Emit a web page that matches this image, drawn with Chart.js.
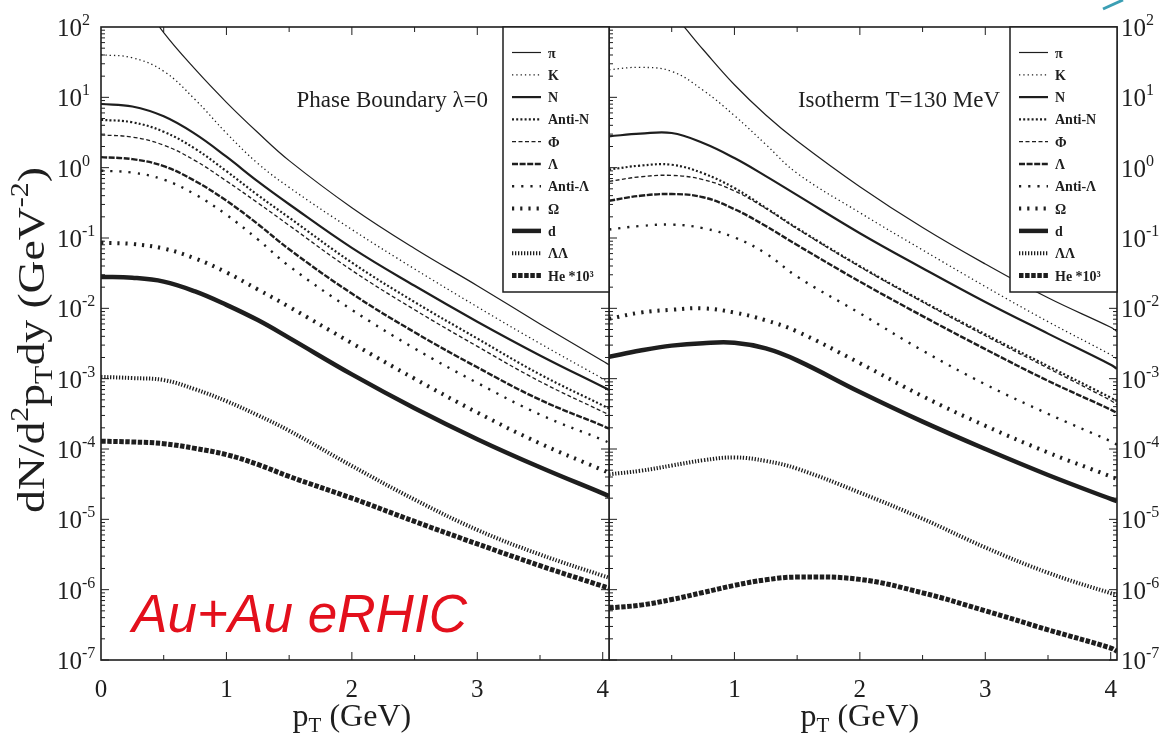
<!DOCTYPE html>
<html>
<head>
<meta charset="utf-8">
<script src="https://cdn.jsdelivr.net/npm/chart.js@4.4.0/dist/chart.umd.min.js"></script>
<style>
  html, body { margin: 0; padding: 0; background: #fff; }
  #wrap { position: relative; width: 1167px; height: 751px; overflow: hidden; }
  canvas { position: absolute; top: 0; }
  #leftPanel { left: 0; }
  #rightPanel { left: 609px; }
</style>
</head>
<body>
<div id="wrap">
  <canvas id="leftPanel" width="610" height="751"></canvas>
  <canvas id="rightPanel" width="558" height="751"></canvas>
</div>
<script>

// transverse momentum grid (GeV)
const pT = [0, 0.25, 0.5, 0.75, 1, 1.25, 1.5, 2, 2.5, 3, 3.5, 4, 4.05];

const speciesLabels = ['π', 'K', 'N', 'Anti-N', 'Φ', 'Λ', 'Anti-Λ', 'Ω', 'd', 'ΛΛ', 'He *10³'];

// left panel: Phase Boundary λ=0
const pbPion = [891, 355, 83, 25.1, 8.5, 3.16, 1.26, 0.27, 0.071, 0.021, 6.0e-3, 1.78e-3, 1.58e-3];
const pbKaon = [40.3, 36.5, 23.5, 9.3, 3.1, 1.15, 0.525, 0.132, 0.0363, 0.0105, 3.16e-3, 1.0e-3, 8.9e-4];
const pbNucleon = [8.04, 7.41, 5.37, 3.02, 1.43, 0.638, 0.302, 0.0724, 0.0209, 6.46e-3, 2.14e-3, 7.67e-4, 6.92e-4];
const pbAntiNucleon = [4.79, 4.42, 3.24, 1.86, 0.891, 0.407, 0.195, 0.0447, 0.0123, 3.72e-3, 1.15e-3, 4.17e-4, 3.8e-4];
const pbPhi = [2.92, 2.72, 2.09, 1.26, 0.646, 0.316, 0.151, 0.0347, 9.55e-3, 2.88e-3, 9.12e-4, 3.39e-4, 3.09e-4];
const pbLambda = [1.41, 1.32, 1.05, 0.646, 0.339, 0.158, 0.0692, 0.0162, 4.57e-3, 1.45e-3, 5.01e-4, 2.14e-4, 1.95e-4];
const pbAntiLambda = [0.906, 0.851, 0.676, 0.417, 0.214, 0.0955, 0.0398, 9.55e-3, 2.69e-3, 8.71e-4, 3.09e-4, 1.35e-4, 1.23e-4];
const pbOmega = [0.0855, 0.0822, 0.0708, 0.0513, 0.0324, 0.0186, 0.0105, 3.2e-3, 1.0e-3, 3.3e-4, 1.2e-4, 5.01e-5, 4.57e-5];
const pbDeuteron = [0.028, 0.0272, 0.024, 0.0174, 0.0112, 6.8e-3, 3.8e-3, 1.15e-3, 3.8e-4, 1.38e-4, 5.5e-5, 2.34e-5, 2.14e-5];
const pbDiLambda = [1.06e-3, 1.02e-3, 9.55e-4, 7.08e-4, 4.79e-4, 3.02e-4, 1.82e-4, 5.75e-5, 1.91e-5, 7.08e-6, 3.16e-6, 1.58e-6, 1.48e-6];
const pbHelium = [1.29e-4, 1.26e-4, 1.19e-4, 1.02e-4, 8.32e-5, 6.03e-5, 4.07e-5, 2.0e-5, 9.33e-6, 4.47e-6, 2.19e-6, 1.12e-6, 1.05e-6];

// right panel: Isotherm T=130 MeV
const isoPion = [1000, 398, 158, 47.9, 15.1, 5.62, 2.4, 0.537, 0.141, 0.0427, 0.0141, 5.37e-3, 4.68e-3];
const isoKaon = [24.7, 26.7, 23.4, 12.6, 5.5, 2.14, 0.832, 0.229, 0.0676, 0.0204, 6.46e-3, 2.19e-3, 1.91e-3];
const isoNucleon = [2.79, 3.04, 3.11, 2.24, 1.37, 0.759, 0.407, 0.117, 0.0372, 0.0123, 4.37e-3, 1.58e-3, 1.38e-3];
const isoAntiNucleon = [0.938, 1.07, 1.1, 0.832, 0.513, 0.269, 0.138, 0.0398, 0.0126, 4.27e-3, 1.51e-3, 5.37e-4, 4.79e-4];
const isoPhi = [0.638, 0.741, 0.776, 0.676, 0.468, 0.263, 0.135, 0.0389, 0.0123, 4.07e-3, 1.41e-3, 4.9e-4, 4.27e-4];
const isoLambda = [0.339, 0.398, 0.422, 0.38, 0.257, 0.148, 0.0794, 0.024, 7.76e-3, 2.63e-3, 9.33e-4, 3.63e-4, 3.24e-4];
const isoAntiLambda = [0.132, 0.148, 0.155, 0.138, 0.102, 0.0603, 0.0282, 8.51e-3, 2.51e-3, 8.32e-4, 3.16e-4, 1.29e-4, 1.15e-4];
const isoOmega = [7.08e-3, 8.71e-3, 9.55e-3, 0.01, 8.71e-3, 6.76e-3, 4.68e-3, 1.66e-3, 5.62e-4, 2.14e-4, 8.91e-5, 4.07e-5, 3.72e-5];
const isoDeuteron = [2.04e-3, 2.51e-3, 2.95e-3, 3.2e-3, 3.24e-3, 2.69e-3, 1.82e-3, 6.46e-4, 2.45e-4, 1.0e-4, 4.27e-5, 1.95e-5, 1.82e-5];
const isoDiLambda = [4.37e-5, 4.9e-5, 5.82e-5, 6.92e-5, 7.59e-5, 6.76e-5, 5.25e-5, 2.4e-5, 1.02e-5, 3.98e-6, 1.74e-6, 8.91e-7, 8.51e-7];
const isoHelium = [5.5e-7, 6.03e-7, 7.24e-7, 9.12e-7, 1.15e-6, 1.38e-6, 1.51e-6, 1.4e-6, 9.02e-7, 5.01e-7, 2.69e-7, 1.48e-7, 1.33e-7];

// tick labels
const yTickExponents = ['2', '1', '0', '-1', '-2', '-3', '-4', '-5', '-6', '-7'];
const leftXTickLabels = ['0', '1', '2', '3', '4'];
const rightXTickLabels = ['1', '2', '3', '4'];

const ink = '#1e1e1e';
const serif = '"Liberation Serif", "Times New Roman", serif';

// one style per species, same order as speciesLabels
const lineStyles = [
    { width: 1.2, dash: [] },
    { width: 1.3, dash: [1.3, 3] },
    { width: 2.2, dash: [] },
    { width: 2.2, dash: [2, 2.2] },
    { width: 1.3, dash: [4, 2.5] },
    { width: 2.4, dash: [6, 1.6] },
    { width: 2.4, dash: [2.2, 7] },
    { width: 4, dash: [2.2, 6] },
    { width: 4.5, dash: [] },
    { width: 4, dash: [1.3, 1.7] },
    { width: 5, dash: [4.5, 1.6] }
];

const panels = {
    leftPanel: {
        title: 'Phase Boundary λ=0',
        titleRight: 488,
        legendLeft: 503,
        yLabelX: 57,
        xTickLabels: leftXTickLabels,
        axisTitle: true
    },
    rightPanel: {
        title: 'Isotherm T=130 MeV',
        titleRight: 391,
        legendLeft: 401,
        yLabelX: 512,
        xTickLabels: rightXTickLabels,
        axisTitle: false
    }
};

// draws a row of text pieces: [text, size, baseline shift]
function drawRuns(ctx, runs, x, y, align) {
    let total = 0;
    runs.forEach(r => {
        ctx.font = r[1] + 'px ' + serif;
        total += ctx.measureText(r[0]).width;
    });
    let cx = x;
    if (align === 'center') cx = x - total / 2;
    if (align === 'right') cx = x - total;
    ctx.textAlign = 'left';
    ctx.textBaseline = 'alphabetic';
    runs.forEach(r => {
        ctx.font = r[1] + 'px ' + serif;
        ctx.fillText(r[0], cx, y + r[2]);
        cx += ctx.measureText(r[0]).width;
    });
}

const panelDecor = {
    id: 'panelDecor',
    afterDatasetsDraw(chart) {
        let cfg = panels[chart.canvas.id];
        let ctx = chart.ctx;
        let area = chart.chartArea;
        let xs = chart.scales.x;
        let ys = chart.scales.y;

        ctx.save();
        ctx.strokeStyle = ink;
        ctx.fillStyle = ink;
        ctx.setLineDash([]);

        // frame
        ctx.lineWidth = 1.6;
        ctx.strokeRect(area.left, area.top, area.right - area.left, area.bottom - area.top);

        // inward ticks on all four sides
        ctx.lineWidth = 1;
        ctx.beginPath();
        for (let e = -7; e < 2; e++) {
            for (let m = 1; m < 10; m++) {
                let py = ys.getPixelForValue(m * Math.pow(10, e));
                let len = m === 1 ? 8 : 4;
                ctx.moveTo(area.left, py);
                ctx.lineTo(area.left + len, py);
                ctx.moveTo(area.right, py);
                ctx.lineTo(area.right - len, py);
            }
        }
        for (let v = 0.5; v < xs.max; v += 0.5) {
            let px = xs.getPixelForValue(v);
            let len = v % 1 === 0 ? 8 : 5;
            ctx.moveTo(px, area.bottom);
            ctx.lineTo(px, area.bottom - len);
            ctx.moveTo(px, area.top);
            ctx.lineTo(px, area.top + len);
        }
        ctx.stroke();

        // y tick labels
        yTickExponents.forEach(exp => {
            let py = ys.getPixelForValue(Math.pow(10, Number(exp)));
            drawRuns(ctx, [['10', 25, 0], [exp, 16, -11]], cfg.yLabelX, py + 9, 'left');
        });

        // x tick labels and axis title
        cfg.xTickLabels.forEach(t => {
            drawRuns(ctx, [[t, 25, 0]], xs.getPixelForValue(Number(t)), 697, 'center');
        });
        drawRuns(ctx, [['p', 32, 0], ['T', 21, 6], [' (GeV)', 32, 0]],
            xs.getPixelForValue(2), 726, 'center');

        if (cfg.axisTitle) {
            ctx.save();
            ctx.translate(44, 340);
            ctx.rotate(-Math.PI / 2);
            ctx.scale(1.2, 1);
            drawRuns(ctx, [
                ['dN/d', 38, 0], ['2', 25, -16], ['p', 38, 0], ['T', 25, 8],
                ['dy (GeV', 38, 0], ['-2', 25, -16], [')', 38, 0]
            ], 0, 0, 'center');
            ctx.restore();

            // red handwritten note
            ctx.save();
            ctx.fillStyle = '#e3101c';
            ctx.font = 'italic 54px "Liberation Sans", "DejaVu Sans", sans-serif';
            let note = 'Au+Au eRHIC';
            let w = ctx.measureText(note).width;
            ctx.translate(132, 632);
            ctx.scale(335 / w, 1);
            ctx.fillText(note, 0, 0);
            ctx.restore();
        } else {
            // stray teal pen stroke in the top right corner
            ctx.save();
            ctx.strokeStyle = '#3b9fb4';
            ctx.lineWidth = 3;
            ctx.beginPath();
            ctx.moveTo(494, 9);
            ctx.lineTo(514, 0);
            ctx.stroke();
            ctx.restore();
        }

        // panel title
        ctx.fillStyle = ink;
        drawRuns(ctx, [[cfg.title, 23, 0]], cfg.titleRight, 107, 'right');

        // legend box
        let lx = cfg.legendLeft;
        let lt = area.top;
        let lb = 292;
        ctx.fillStyle = '#fff';
        ctx.fillRect(lx, lt, area.right - lx, lb - lt);
        ctx.lineWidth = 1.5;
        ctx.strokeRect(lx, lt, area.right - lx, lb - lt);
        speciesLabels.forEach((label, i) => {
            let ry = 52.5 + i * 22.3;
            let st = lineStyles[i];
            ctx.lineWidth = st.width;
            ctx.setLineDash(st.dash);
            ctx.beginPath();
            ctx.moveTo(lx + 9, ry);
            ctx.lineTo(lx + 38, ry);
            ctx.stroke();
            ctx.setLineDash([]);
            ctx.fillStyle = ink;
            ctx.font = 'bold 14px ' + serif;
            ctx.textAlign = 'left';
            ctx.textBaseline = 'alphabetic';
            ctx.fillText(label, lx + 45, ry + 5);
        });

        ctx.restore();
    }
};

function buildPanel(canvasId, series, padding) {
    let datasets = series.map((values, i) => ({
        label: speciesLabels[i],
        data: pT.map((p, j) => ({ x: p, y: values[j] })),
        borderColor: ink,
        borderWidth: lineStyles[i].width,
        borderDash: lineStyles[i].dash,
        pointRadius: 0,
        fill: false,
        tension: 0.4
    }));

    return new Chart(document.getElementById(canvasId), {
        type: 'line',
        data: { datasets: datasets },
        options: {
            responsive: false,
            animation: false,
            devicePixelRatio: 1,
            layout: { padding: padding },
            plugins: {
                legend: { display: false },
                tooltip: { enabled: false }
            },
            scales: {
                x: { type: 'linear', min: 0, max: 4.05, display: false },
                y: { type: 'logarithmic', min: 1e-7, max: 100, display: false }
            }
        },
        plugins: [panelDecor]
    });
}

buildPanel('leftPanel', [
    pbPion, pbKaon, pbNucleon, pbAntiNucleon, pbPhi, pbLambda,
    pbAntiLambda, pbOmega, pbDeuteron, pbDiLambda, pbHelium
], { left: 101, right: 1, top: 27, bottom: 91 });

buildPanel('rightPanel', [
    isoPion, isoKaon, isoNucleon, isoAntiNucleon, isoPhi, isoLambda,
    isoAntiLambda, isoOmega, isoDeuteron, isoDiLambda, isoHelium
], { left: 0, right: 50, top: 27, bottom: 91 });

</script>
</body>
</html>
